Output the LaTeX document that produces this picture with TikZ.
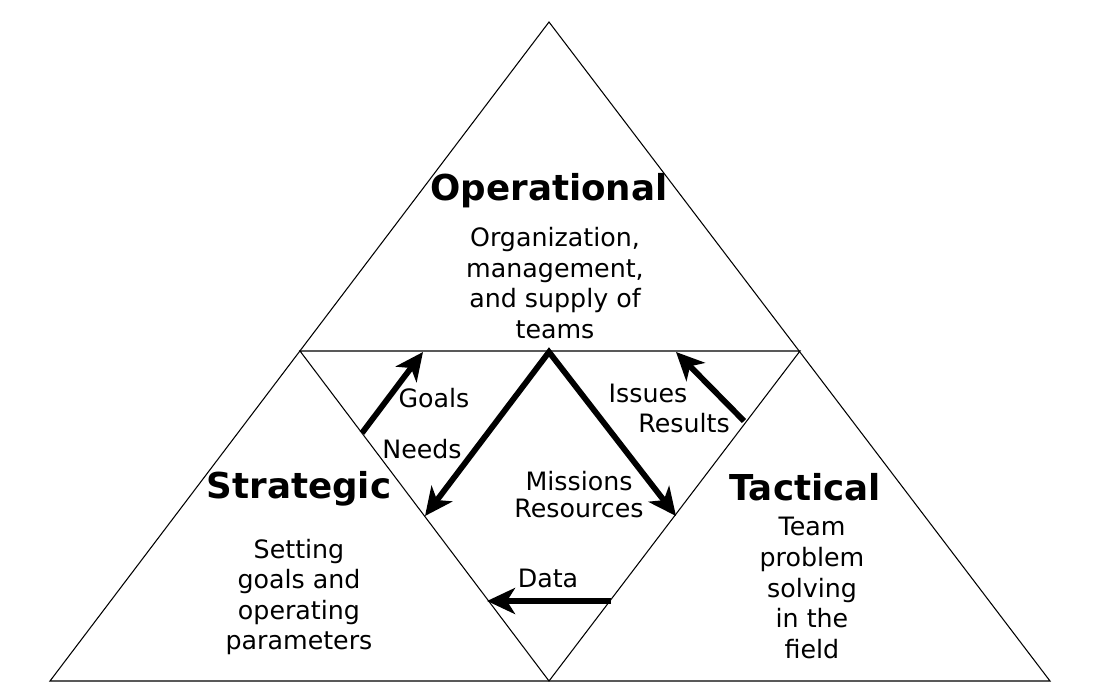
\documentclass[tikz,border=0pt]{standalone}
\usepackage{fontspec}
\setmainfont{DejaVu Sans}
\usetikzlibrary{positioning, arrows.meta}

\begin{document}
\begin{tikzpicture}[x=0.02cm, y=-0.02cm, title/.style={font=\fontsize{20.3}{24}\selectfont\bfseries}, desc/.style={align=center, font=\fontsize{14.4}{17.4}\selectfont}, lbl/.style={font=\fontsize{14.4}{17.4}\selectfont, inner sep=1pt}, edge/.style={line width=0.6pt}, arrow/.style={line width=3.3pt, miter limit=10, -{Stealth[length=5.6mm, width=5.2mm, inset=1.6mm]}}]

  \useasboundingbox (0,0) rectangle (1095,693);

  % outer triangle and inner split
  \coordinate (top) at (549,22);
  \coordinate (bl) at (50,681);
  \coordinate (br) at (1050,681);
  \coordinate (ml) at (300,351);
  \coordinate (mr) at (800,351);
  \coordinate (mb) at (549,681);
  \draw[edge] (top) -- (bl) -- (br) -- cycle;
  \draw[edge] (ml) -- (mr) -- (mb) -- cycle;

  \node[title] (operational) at (549,191) {Operational};
  \node[desc] (opdesc) at (555,283) {Organization,\\management,\\and supply of\\teams};

  \node[title] (strategic) at (299,489) {Strategic};
  \node[desc] (stdesc) at (299,597) {Setting\\goals and\\operating\\parameters};

  \node[title] (tactical) at (805,487) {Tactical};
  \node[desc] (tadesc) at (812,588) {Team\\problem\\solving\\in the\\field};

  % flows between the three levels
  \coordinate (goalsA) at (362,433);
  \coordinate (goalsB) at (423,352);
  \draw[arrow] (goalsA) -- (goalsB);
  \node[lbl] (goals) at (434,398) {Goals};
  \node[lbl] (needs) at (422,449) {Needs};

  \coordinate (split) at (549,352);
  \coordinate (needsB) at (425,516);
  \coordinate (missB) at (676,516);
  \draw[arrow, {Stealth[length=5.6mm, width=5.2mm, inset=1.6mm]}-{Stealth[length=5.6mm, width=5.2mm, inset=1.6mm]}] (needsB) -- (split) -- (missB);
  \node[lbl] (missions) at (579,481) {Missions};
  \node[lbl] (resources) at (579,508) {Resources};

  \coordinate (issuesA) at (744,421);
  \coordinate (issuesB) at (676,352);
  \draw[arrow] (issuesA) -- (issuesB);
  \node[lbl] (issues) at (648,393) {Issues};
  \node[lbl] (results) at (684,423) {Results};

  \coordinate (dataA) at (611,601);
  \coordinate (dataB) at (487,601);
  \draw[arrow] (dataA) -- (dataB);
  \node[lbl] (data) at (548,578) {Data};
\end{tikzpicture}
\end{document}
